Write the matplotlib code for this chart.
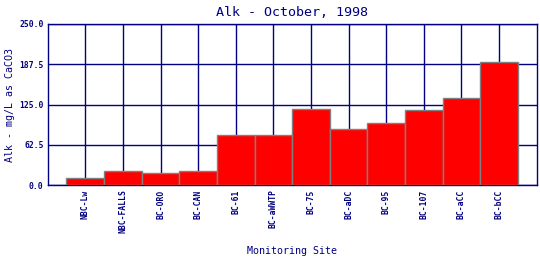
import matplotlib
matplotlib.use('Agg')
import matplotlib.pyplot as plt
import numpy as np

# monitoring sites and alkalinity values (mg/L as CaCO3)
sites = ['NBC-Lw', 'NBC-FALLS', 'BC-ORO', 'BC-CAN', 'BC-61', 'BC-aWWTP',
         'BC-75', 'BC-aDC', 'BC-95', 'BC-107', 'BC-aCC', 'BC-bCC']
alk = [11, 21.5, 19.5, 21.5, 78.5, 78.5, 118, 87.5, 96, 116.5, 135, 190.5]
yticks = [0.0, 62.5, 125.0, 187.5, 250.0]

navy = '#000080'
mono = 'DejaVu Sans Mono'

fig = plt.figure(figsize=(5.4, 2.6), dpi=100)
ax = fig.add_axes([0.0883, 0.2873, 0.9056, 0.6204])

x = np.arange(len(sites))
ax.bar(x, alk, width=1.0, color='#ff0000', edgecolor='#808080',
       linewidth=1.0, zorder=3)

ax.set_xlim(-1, len(sites))
ax.set_ylim(0, 250)
ax.set_xticks(x)
ax.set_xticklabels(sites, rotation=90, fontsize=5.8, family=mono,
                   fontweight='bold', color=navy)
ax.set_yticks(yticks)
ax.set_yticklabels(['%.1f' % v for v in yticks], fontsize=5.8, family=mono,
                   fontweight='bold', color=navy)
ax.tick_params(length=0, pad=3)
ax.grid(True, color=navy, linewidth=1.0, zorder=0)
ax.set_axisbelow(True)
for s in ax.spines.values():
    s.set_color(navy)
    s.set_linewidth(1.0)

ax.set_title('Alk - October, 1998', family=mono, fontsize=9.6,
             color=navy, pad=6)
ax.set_ylabel('Alk - mg/L as CaCO3', family=mono, fontsize=7.2,
              color=navy, labelpad=3)
ax.set_xlabel('Monitoring Site', family=mono, fontsize=7.2,
              color=navy, labelpad=9)

fig.savefig('out.png', dpi=100)
